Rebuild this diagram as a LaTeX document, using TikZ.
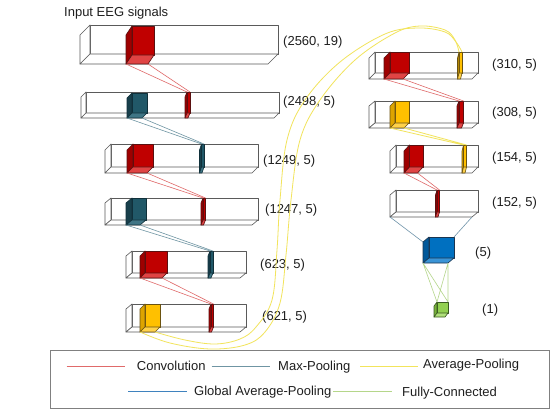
\documentclass[tikz,border=0pt]{standalone}
\usepackage{fontspec}
\setmainfont{Liberation Sans}
\definecolor{barF}{HTML}{FFFFFF}\definecolor{barL}{HTML}{FFFFFF}\definecolor{barB}{HTML}{FFFFFF}\definecolor{barD}{HTML}{5A5A5A}
\definecolor{redF}{HTML}{C00000}\definecolor{redL}{HTML}{9E0000}\definecolor{redB}{HTML}{E04444}\definecolor{redD}{HTML}{5A1010}
\definecolor{tealF}{HTML}{215868}\definecolor{tealL}{HTML}{183F4B}\definecolor{tealB}{HTML}{3F7585}\definecolor{tealD}{HTML}{10303A}
\definecolor{yelF}{HTML}{FFC000}\definecolor{yelL}{HTML}{DDA400}\definecolor{yelB}{HTML}{FFD24A}\definecolor{yelD}{HTML}{6A5210}
\definecolor{bluF}{HTML}{0070C0}\definecolor{bluL}{HTML}{00589A}\definecolor{bluB}{HTML}{3A94D6}\definecolor{bluD}{HTML}{1A3550}
\definecolor{grnF}{HTML}{92D050}\definecolor{grnL}{HTML}{76B03A}\definecolor{grnB}{HTML}{B0E07A}\definecolor{grnD}{HTML}{3A5A20}
\definecolor{convC}{HTML}{E06A6A}
\definecolor{maxC}{HTML}{6F95A3}
\definecolor{avgC}{HTML}{F2E45C}
\definecolor{gapC}{HTML}{3F82BE}
\definecolor{gapL}{HTML}{7094AA}
\definecolor{fcC}{HTML}{B5D68A}
\newcommand{\slab}[8]{%
  \coordinate (#1-tl) at (#2,#3);
  \coordinate (#1-tr) at (#4,#3);
  \coordinate (#1-fbl) at (#2,#5);
  \coordinate (#1-fbr) at (#4,#5);
  \coordinate (#1-ltl) at ({#2-#6},{#3+#7});
  \coordinate (#1-bl) at ({#2-#6},{#5+#7});
  \coordinate (#1-br) at ({#4-#6},{#5+#7});
  \filldraw[fill=#8F,draw=#8D,edge] (#1-tl) rectangle (#1-fbr);
  \filldraw[fill=#8L,draw=#8D,edge] (#1-tl) -- (#1-ltl) -- (#1-bl) -- (#1-fbl) -- cycle;
  \filldraw[fill=#8B,draw=#8D,edge] (#1-fbl) -- (#1-bl) -- (#1-br) -- (#1-fbr) -- cycle;
}
\tikzset{
  edge/.style={line width=0.6pt,line join=round},
  lbl/.style={font=\fontsize{13}{15}\selectfont,anchor=west,inner sep=0pt,text=black!88},
  conv/.style={convC,line width=0.6pt},
  maxp/.style={maxC,line width=0.6pt},
  avgp/.style={avgC,line width=0.8pt},
  gapp/.style={gapL,line width=0.6pt},
  fcp/.style={fcC,line width=0.6pt},
}
\begin{document}
\begin{tikzpicture}[x=1pt,y=-1pt]
\useasboundingbox (0,0) rectangle (552,417);
\fill[white] (0,0) rectangle (552,417);
\node[lbl] (title) at (64,13) {Input EEG signals};
% left column
\slab{B1}{90}{25}{278}{54}{10}{10}{bar}
\slab{B1c}{132}{26}{154}{55}{6}{9}{red}
\node[lbl] (L1) at (283,42) {(2560, 19)};
\slab{B2}{86}{92}{279}{113}{5}{5}{bar}
\slab{B2c}{132}{93}{147}{113}{5}{5}{teal}
\slab{B2s}{187}{92}{190}{113}{2}{5}{red}
\node[lbl] (L2) at (283,102) {(2498, 5)};
\slab{B3}{111}{144}{258}{167}{6}{6}{bar}
\slab{B3c}{133}{144}{153}{167}{6}{6}{red}
\slab{B3s}{201.5}{144}{204}{167}{2}{6}{teal}
\node[lbl] (L3) at (263,161) {(1249, 5)};
\slab{B4}{111}{198}{258}{220}{6}{5}{bar}
\slab{B4c}{132}{198}{146}{220}{6}{5}{teal}
\slab{B4s}{203}{198}{205.5}{220}{2}{5}{red}
\node[lbl] (L4) at (265,210) {(1247, 5)};
\slab{B5}{132}{251}{246}{273}{6}{5}{bar}
\slab{B5c}{145}{251}{167}{273}{5}{5}{red}
\slab{B5s}{210}{251}{213}{273}{2}{5}{teal}
\node[lbl] (L5) at (260,265) {(623, 5)};
\slab{B6}{132}{304}{246}{327}{6}{5}{bar}
\slab{B6c}{145}{304}{160}{327}{5}{5}{yel}
\slab{B6s}{211}{304}{213.5}{327}{2}{5}{red}
\node[lbl] (L6) at (262,317) {(621, 5)};
% right column
\slab{R1}{375}{52}{478}{73}{6}{6}{bar}
\slab{R1c}{390}{52}{409}{73}{6}{6}{red}
\slab{R1s}{459}{52}{462}{73}{1.5}{6}{yel}
\node[lbl] (M1) at (492,65) {(310, 5)};
\slab{R2}{375}{101}{478}{123}{6}{5}{bar}
\slab{R2c}{395}{101}{409}{123}{5}{5}{yel}
\slab{R2s}{459}{101}{463.5}{123}{2}{5}{red}
\node[lbl] (M2) at (492,113) {(308, 5)};
\slab{R3}{396}{145}{478}{167}{6}{6}{bar}
\slab{R3c}{409.5}{145}{423}{167}{5.5}{6}{red}
\slab{R3s}{463.5}{145}{466.5}{167}{1.5}{6}{yel}
\node[lbl] (M3) at (492,158) {(154, 5)};
\slab{R4}{396}{190}{478}{212}{6}{5}{bar}
\slab{R4s}{437}{190}{439.5}{212}{1.5}{5}{red}
\node[lbl] (M4) at (492,203) {(152, 5)};
\slab{G}{429}{237}{454}{258}{6}{5}{blu}
\node[lbl] (M5) at (475,253) {(5)};
\slab{F}{437}{302}{448}{313}{3}{4}{grn}
\node[lbl] (M6) at (482,310) {(1)};
% connectors
\draw[conv] (B1c-bl) -- (B2s-tl) (B1c-br) -- (B2s-tr);
\draw[maxp] (B2c-bl) -- (B3s-tl) (B2c-br) -- (B3s-tr);
\draw[conv] (B3c-bl) -- (B4s-tl) (B3c-br) -- (B4s-tr);
\draw[maxp] (B4c-bl) -- (B5s-tl) (B4c-br) -- (B5s-tr);
\draw[conv] (B5c-bl) -- (B6s-tl) (B5c-br) -- (B6s-tr);
\draw[conv] (R1c-bl) -- (R2s-tl) (R1c-br) -- (R2s-tr);
\draw[avgp] (R2c-bl) -- (R3s-tl) (R2c-br) -- (R3s-tr);
\draw[conv] (R3c-bl) -- (R4s-tl) (R3c-br) -- (R4s-tr);
\draw[gapp] (R4-bl) -- (G-ltl) (R4-br) -- (G-tr);
\draw[fcp] (G-bl) -- (F-tl) (G-bl) -- (F-tr) (G-br) -- (F-tl) (G-br) -- (F-tr);
\draw[avgp] plot[smooth,tension=0.6] coordinates {(B6c-bl) (170,343) (210,349) (245,345) (265,332) (280,303) (286,255) (291,200) (300,140) (320,100) (355,60) (395,33) (420,26) (445,30) (455,40) (R1s-tl)};
\draw[avgp] plot[smooth,tension=0.6] coordinates {(B6c-br) (185,340) (215,344) (240,339) (256,327) (272,300) (277,250) (280,200) (287,140) (305,100) (340,62) (385,34) (418,28) (445,32) (456,42) (R1s-tr)};
% legend
\node[draw=black!50,line width=0.9pt,minimum width=499pt,minimum height=57.5pt,inner sep=0pt] (legend) at (300.4,379.5) {};
\coordinate (k1a) at (66.7,366); \coordinate (k1b) at (125,366);
\coordinate (k2a) at (211.7,366); \coordinate (k2b) at (270,366);
\coordinate (k3a) at (360,366); \coordinate (k3b) at (418,366);
\coordinate (k4a) at (128,391.7); \coordinate (k4b) at (186.7,391.7);
\coordinate (k5a) at (333,391.7); \coordinate (k5b) at (391.7,391.7);
\draw[convC,line width=0.8pt] (k1a) -- (k1b);
\draw[maxC,line width=0.8pt] (k2a) -- (k2b);
\draw[avgC,line width=0.8pt] (k3a) -- (k3b);
\draw[gapC,line width=0.8pt] (k4a) -- (k4b);
\draw[fcC,line width=0.8pt] (k5a) -- (k5b);
\node[lbl] (t1) at (136.7,366) {Convolution};
\node[lbl] (t2) at (278,367) {Max-Pooling};
\node[lbl] (t3) at (423,365) {Average-Pooling};
\node[lbl] (t4) at (194,392) {Global Average-Pooling};
\node[lbl] (t5) at (402,393) {Fully-Connected};
\end{tikzpicture}
\end{document}
